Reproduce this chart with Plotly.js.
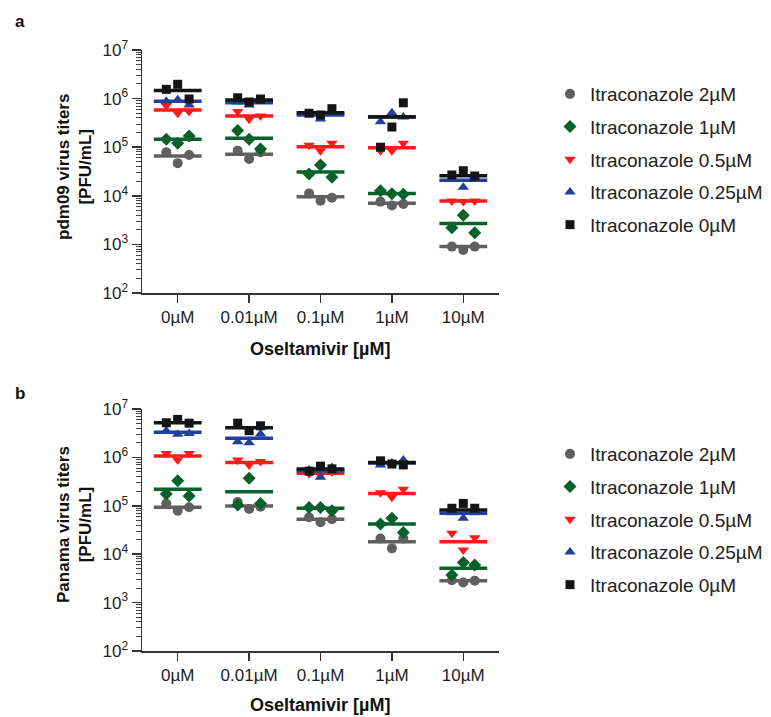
<!DOCTYPE html>
<html><head><meta charset="utf-8">
<script src="https://cdn.plot.ly/plotly-3.0.1.min.js"></script>
<style>html,body{margin:0;padding:0;background:#fff}#chart{width:771px;height:717px}</style>
</head><body><div id="chart"></div>
<script>
// ---- data ----
const categories = ['0µM', '0.01µM', '0.1µM', '1µM', '10µM'];
const seriesNames = ['Itraconazole 2µM', 'Itraconazole 1µM', 'Itraconazole 0.5µM', 'Itraconazole 0.25µM', 'Itraconazole 0µM'];
const yTickVals = [1e2, 1e3, 1e4, 1e5, 1e6, 1e7];
const yTickText = ['10<sup>2</sup>', '10<sup>3</sup>', '10<sup>4</sup>', '10<sup>5</sup>', '10<sup>6</sup>', '10<sup>7</sup>'];

// panel a: pdm09 (three replicates per group)
const pdm09_itra2 = [[7.9e4, 4.7e4, 6.9e4], [8.5e4, 5.7e4, 7.9e4], [1.12e4, 7.9e3, 9.1e3], [7.6e3, 6.3e3, 6.8e3], [9.0e2, 7.7e2, 9.0e2]];
const pdm09_itra1 = [[1.45e5, 1.2e5, 1.7e5], [2.2e5, 1.45e5, 9.2e4], [2.8e4, 4.3e4, 2.4e4], [1.27e4, 1.1e4, 1.08e4], [2.2e3, 4.0e3, 1.74e3]];
const pdm09_itra05 = [[7.1e5, 5.0e5, 5.4e5], [5.4e5, 3.75e5, 4.4e5], [1.1e5, 8.5e4, 1.2e5], [8.5e4, 8.5e4, 1.2e5], [7.8e3, 7.6e3, 7.8e3]];
const pdm09_itra025 = [[8.8e5, 9.5e5, 7.4e5], [8.5e5, 7.4e5, 8.8e5], [4.8e5, 3.8e5, 5.0e5], [3.35e5, 5.1e5, 4.2e5], [2.3e4, 1.5e4, 2.4e4]];
const pdm09_itra0 = [[1.55e6, 1.97e6, 9.8e5], [1.04e6, 8.5e5, 9.8e5], [5.0e5, 4.6e5, 6.2e5], [1.0e5, 2.6e5, 8.2e5], [2.68e4, 3.28e4, 2.55e4]];
const pdm09_mean_itra2 = [6.6e4, 7.2e4, 9.6e3, 7.0e3, 9.0e2];
const pdm09_mean_itra1 = [1.45e5, 1.52e5, 3.1e4, 1.12e4, 2.7e3];
const pdm09_mean_itra05 = [5.8e5, 4.4e5, 1.02e5, 9.8e4, 7.8e3];
const pdm09_mean_itra025 = [8.8e5, 8.2e5, 4.6e5, 4.25e5, 2.1e4];
const pdm09_mean_itra0 = [1.46e6, 9.4e5, 5.1e5, 4.2e5, 2.6e4];

// panel b: Panama
const panama_itra2 = [[1.12e5, 7.9e4, 9.3e4], [1.2e5, 8.6e4, 9.6e4], [5.8e4, 4.57e4, 5.3e4], [2.1e4, 1.32e4, 2.1e4], [2.9e3, 2.6e3, 2.84e3]];
const panama_itra1 = [[1.75e5, 3.3e5, 1.6e5], [1.04e5, 3.7e5, 1.12e5], [9.2e4, 9.2e4, 7.9e4], [4.2e4, 5.5e4, 2.8e4], [3.7e3, 6.7e3, 6.0e3]];
const panama_itra05 = [[1.2e6, 8.8e5, 1.2e6], [8.8e5, 7.0e5, 8.2e5], [4.6e5, 4.4e5, 5.0e5], [1.85e5, 1.5e5, 2.2e5], [2.7e4, 1.22e4, 2.2e4]];
const panama_itra025 = [[3.56e6, 3.0e6, 3.1e6], [2.1e6, 2.0e6, 3.04e6], [5.5e5, 3.9e5, 6.2e5], [7.0e5, 7.7e5, 8.8e5], [7.2e4, 5.5e4, 7.2e4]];
const panama_itra0 = [[5.2e6, 6.1e6, 5.1e6], [5.1e6, 3.56e6, 4.5e6], [5.2e5, 6.6e5, 5.8e5], [8.5e5, 7.3e5, 7.0e5], [8.9e4, 1.12e5, 8.9e4]];
const panama_mean_itra2 = [9.3e4, 9.9e4, 5.3e4, 1.8e4, 2.84e3];
const panama_mean_itra1 = [2.2e5, 1.95e5, 8.9e4, 4.2e4, 5.1e3];
const panama_mean_itra05 = [1.07e6, 7.8e5, 4.7e5, 1.8e5, 1.8e4];
const panama_mean_itra025 = [3.3e6, 2.48e6, 5.3e5, 7.7e5, 7.0e4];
const panama_mean_itra0 = [5.2e6, 4.1e6, 5.75e5, 7.8e5, 8.2e4];

// ---- styles ----
const W = 771, H = 717;
const px = x => x / W, py = y => 1 - y / H;
const FONT = 'Liberation Sans, Arial, sans-serif';
const colors = ['#606060', '#06612b', '#ff1a1a', '#213f9b', '#141414'];
const symbols = ['circle', 'diamond', 'triangle-down', 'triangle-up', 'square'];
const sizes = [10, 10, 10, 10, 9];
const offsets = [-0.16, 0, 0.16];
const halfLine = 0.335;

const panels = [
  {pts: [pdm09_itra2, pdm09_itra1, pdm09_itra05, pdm09_itra025, pdm09_itra0],
   means: [pdm09_mean_itra2, pdm09_mean_itra1, pdm09_mean_itra05, pdm09_mean_itra025, pdm09_mean_itra0],
   xa: 'x', ya: 'y', legend: 'legend'},
  {pts: [panama_itra2, panama_itra1, panama_itra05, panama_itra025, panama_itra0],
   means: [panama_mean_itra2, panama_mean_itra1, panama_mean_itra05, panama_mean_itra025, panama_mean_itra0],
   xa: 'x2', ya: 'y2', legend: 'legend2'}
];

const traces = [];
panels.forEach((p, pi) => {
  for (let s = 0; s < seriesNames.length; s++) {
    const lx = [], ly = [];
    p.means[s].forEach((m, i) => { lx.push(i - halfLine, i + halfLine, null); ly.push(m, m, null); });
    traces.push({type: 'scatter', mode: 'lines', x: lx, y: ly, xaxis: p.xa, yaxis: p.ya,
      line: {color: colors[s], width: 3.5}, showlegend: false, hoverinfo: 'skip',
      legend: p.legend, legendgroup: 'g' + pi + s});
    const mx = [], my = [];
    p.pts[s].forEach((grp, i) => grp.forEach((v, j) => { mx.push(i + offsets[j]); my.push(v); }));
    traces.push({type: 'scatter', mode: 'markers', x: mx, y: my, xaxis: p.xa, yaxis: p.ya,
      name: seriesNames[s], legend: p.legend, legendgroup: 'g' + pi + s,
      marker: {symbol: symbols[s], size: sizes[s], color: colors[s], line: {width: 0}}});
  }
});

function xAxis(anchor) {
  return {domain: [px(142), px(499)], anchor: anchor, range: [-0.5, 4.5],
    tickmode: 'array', tickvals: [0, 1, 2, 3, 4], ticktext: categories,
    ticks: 'outside', ticklen: 8, tickwidth: 1.5, tickcolor: '#333',
    showline: true, linewidth: 1.5, linecolor: '#333', showgrid: false, zeroline: false,
    tickfont: {family: FONT, size: 17, color: '#222'}, fixedrange: true};
}
function yAxis(top, bottom, anchor) {
  return {type: 'log', domain: [py(bottom), py(top)], anchor: anchor, range: [2, 7],
    tickmode: 'array', tickvals: yTickVals, ticktext: yTickText,
    ticks: 'outside', ticklen: 9, tickwidth: 1.5, tickcolor: '#333',
    minor: {ticks: 'outside', ticklen: 5, tickwidth: 1, tickcolor: '#444', dtick: 'D1', showgrid: false},
    showline: true, linewidth: 1.5, linecolor: '#333', showgrid: false, zeroline: false,
    tickfont: {family: FONT, size: 17, color: '#222'}, fixedrange: true};
}

const legendBase = {xanchor: 'left', yanchor: 'top', traceorder: 'grouped', tracegroupgap: 5,
  font: {family: FONT, size: 19, color: '#222'}, bgcolor: 'rgba(0,0,0,0)', borderwidth: 0};

const layout = {
  width: W, height: H, margin: {l: 0, r: 0, t: 0, b: 0},
  paper_bgcolor: '#fff', plot_bgcolor: '#fff', showlegend: true,
  xaxis: xAxis('y'), yaxis: yAxis(50, 293, 'x'),
  xaxis2: xAxis('y2'), yaxis2: yAxis(409, 651, 'x2'),
  legend: Object.assign({x: px(550), y: py(75)}, legendBase),
  legend2: Object.assign({x: px(550), y: py(435)}, legendBase),
  annotations: [
    {text: '<b>a</b>', x: px(20), y: py(22), xref: 'paper', yref: 'paper', xanchor: 'center', yanchor: 'middle', showarrow: false, font: {family: FONT, size: 17, color: '#111'}},
    {text: '<b>b</b>', x: px(20), y: py(393), xref: 'paper', yref: 'paper', xanchor: 'center', yanchor: 'middle', showarrow: false, font: {family: FONT, size: 17, color: '#111'}},
    {text: '<b>pdm09 virus titers<br>[PFU/mL]</b>', textangle: -90, x: px(74), y: py(167), xref: 'paper', yref: 'paper', xanchor: 'center', yanchor: 'middle', showarrow: false, font: {family: FONT, size: 17, color: '#111'}},
    {text: '<b>Panama virus titers<br>[PFU/mL]</b>', textangle: -90, x: px(74), y: py(525), xref: 'paper', yref: 'paper', xanchor: 'center', yanchor: 'middle', showarrow: false, font: {family: FONT, size: 17, color: '#111'}},
    {text: '<b>Oseltamivir [µM]</b>', x: px(320), y: py(349), xref: 'paper', yref: 'paper', xanchor: 'center', yanchor: 'middle', showarrow: false, font: {family: FONT, size: 18, color: '#111'}},
    {text: '<b>Oseltamivir [µM]</b>', x: px(320), y: py(705), xref: 'paper', yref: 'paper', xanchor: 'center', yanchor: 'middle', showarrow: false, font: {family: FONT, size: 18, color: '#111'}}
  ]
};

Plotly.newPlot('chart', traces, layout, {staticPlot: true, displayModeBar: false});
</script></body></html>
